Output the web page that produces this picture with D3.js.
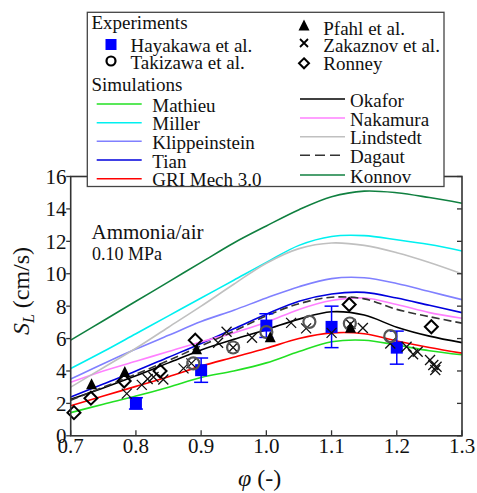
<!DOCTYPE html>
<html><head><meta charset="utf-8">
<script src="https://cdn.jsdelivr.net/npm/d3@7/dist/d3.min.js"></script>
<style>body{margin:0;background:#fff}svg{display:block}</style>
</head><body>
<svg id="c" width="477" height="493" font-family="'Liberation Serif', 'Times New Roman', Times, serif"></svg>
<script>
// ---- data ----
const phiGrid = [0.7,0.75,0.8,0.85,0.9,0.95,1.0,1.05,1.1,1.15,1.2,1.25,1.3];
const mathieu  = [1.43,1.95,2.45,3.0,3.6,4.0,4.5,5.2,5.8,5.9,5.6,5.25,5.0];
const miller   = [4.15,5.2,6.3,7.4,8.5,9.6,10.7,11.75,12.3,12.35,12.1,11.8,11.4];
const klipp    = [3.5,4.45,5.35,6.2,7.05,7.75,8.5,9.2,9.7,9.75,9.4,8.9,8.4];
const tian     = [2.4,3.2,4.0,4.85,5.7,6.6,7.5,8.3,8.75,8.85,8.5,8.05,7.6];
const gri      = [1.85,2.45,3.05,3.65,4.3,4.85,5.4,6.0,6.35,6.3,5.85,5.45,5.1];
const okafor   = [2.25,2.95,3.7,4.5,5.3,5.95,6.55,7.2,7.65,7.45,6.7,6.15,5.75];
const nakamura = [3.3,4.0,4.6,5.2,5.8,6.35,7.0,7.8,8.35,8.5,8.1,7.6,7.25];
const lindstedt= [3.0,4.2,5.4,6.7,8.0,9.35,10.65,11.55,11.9,11.75,11.3,10.7,10.0];
const dagaut   = [2.2,3.0,3.8,4.65,5.55,6.45,7.4,8.15,8.55,8.45,7.8,7.35,6.95];
const konnov   = [5.9,7.1,8.3,9.5,10.7,11.9,12.95,13.95,14.75,15.1,15.0,14.7,14.35];

const hayakawaPhi = [0.8,0.9,1.0,1.1,1.2];
const hayakawaSL  = [2.0,4.05,6.8,6.72,5.44];
const hayakawaErr = [0.35,0.75,0.73,1.28,1.02];
const takizawaPhi = [0.888,0.949,1.0,1.066,1.128,1.19];
const takizawaSL  = [4.47,5.45,6.4,7.03,6.93,6.15];
const pfahlPhi = [0.732,0.783,0.893,1.006,1.129];
const pfahlSL  = [3.14,3.9,5.3,6.05,6.63];
const zakaznovPhi = [0.786,0.809,0.818,0.827,0.842,0.873,0.885,0.926,0.939,0.949,0.978,1.038,1.061,1.1,1.129,1.148,1.19,1.215,1.225,1.232,1.251,1.256,1.259,1.261];
const zakaznovSL  = [2.6,3.14,3.5,3.63,3.47,4.16,4.47,5.74,6.42,5.45,6.05,6.97,6.63,6.35,6.9,6.65,5.7,5.5,5.03,5.19,4.68,4.37,4.06,4.26];
const ronneyPhi = [0.705,0.731,0.782,0.837,0.891,1.127,1.253];
const ronneySL  = [1.43,2.32,3.38,4.0,5.9,8.1,6.73];

const xTicks = [0.7,0.8,0.9,1.0,1.1,1.2,1.3];
const yTicks = [0,2,4,6,8,10,12,14,16];

const simNames = ["Mathieu","Miller","Klippeinstein","Tian","GRI Mech 3.0","Okafor","Nakamura","Lindstedt","Dagaut","Konnov"];
const simData = [mathieu,miller,klipp,tian,gri,okafor,nakamura,lindstedt,dagaut,konnov];
const simColors = ["#22e022","#00f0f0","#8080ff","#0000dd","#ff0000","#000000","#ff80ff","#c0c0c0","#333333","#108040"];
const simDash = [null,null,null,null,null,null,null,null,"8,4",null];

// ---- layout ----
const svg = d3.select("#c");
const x = d3.scaleLinear().domain([0.7,1.3]).range([70.7,462]);
const y = d3.scaleLinear().domain([0,16]).range([435.8,176.5]);
const axisColor = "#333";
const txtColor = "#111";

svg.append("clipPath").attr("id","clip").append("rect")
  .attr("x",x(0.7)).attr("y",y(16)).attr("width",x(1.3)-x(0.7)).attr("height",y(0)-y(16));

const line = d3.line().x((d,i)=>x(phiGrid[i])).y(d=>y(d)).curve(d3.curveCatmullRom.alpha(0.5));
const gLines = svg.append("g").attr("clip-path","url(#clip)");
simData.forEach((s,k)=>{
  gLines.append("path").attr("d",line(s)).attr("fill","none")
    .attr("stroke",simColors[k]).attr("stroke-width",1.6)
    .attr("stroke-dasharray",simDash[k]);
});

const gM = svg.append("g");
hayakawaPhi.forEach((p,i)=>{
  const cx=x(p), y1=y(hayakawaSL[i]+hayakawaErr[i]), y2=y(hayakawaSL[i]-hayakawaErr[i]);
  gM.append("line").attr("x1",cx).attr("x2",cx).attr("y1",y1).attr("y2",y2).attr("stroke","#0000ff").attr("stroke-width",1.5);
  [y1,y2].forEach(yy=>gM.append("line").attr("x1",cx-7).attr("x2",cx+7).attr("y1",yy).attr("y2",yy).attr("stroke","#0000ff").attr("stroke-width",1.5));
  gM.append("rect").attr("x",cx-6).attr("y",y(hayakawaSL[i])-6).attr("width",12).attr("height",12).attr("fill","#0000ff");
});
zakaznovPhi.forEach((p,i)=>{
  const cx=x(p), cy=y(zakaznovSL[i]), r=5;
  gM.append("path").attr("d",`M${cx-r},${cy-r}L${cx+r},${cy+r}M${cx-r},${cy+r}L${cx+r},${cy-r}`)
    .attr("stroke","#111").attr("stroke-width",1.3).attr("fill","none");
});
takizawaPhi.forEach((p,i)=>{
  gM.append("circle").attr("cx",x(p)).attr("cy",y(takizawaSL[i])).attr("r",6)
    .attr("fill","none").attr("stroke","#555").attr("stroke-width",2.2);
});
const tri = (cx,cy,s)=>`M${cx},${cy-s*0.6}L${cx+s/2},${cy+s*0.4}L${cx-s/2},${cy+s*0.4}Z`;
pfahlPhi.forEach((p,i)=>{
  gM.append("path").attr("d",tri(x(p),y(pfahlSL[i]),11)).attr("fill","#000");
});
const dia = (cx,cy,r)=>`M${cx},${cy-r}L${cx+r},${cy}L${cx},${cy+r}L${cx-r},${cy}Z`;
ronneyPhi.forEach((p,i)=>{
  gM.append("path").attr("d",dia(x(p),y(ronneySL[i]),6.5)).attr("fill","none").attr("stroke","#000").attr("stroke-width",2);
});

// ---- axes ----
const gA = svg.append("g");
gA.append("rect").attr("x",x(0.7)).attr("y",y(16)).attr("width",x(1.3)-x(0.7)).attr("height",y(0)-y(16))
  .attr("fill","none").attr("stroke",axisColor).attr("stroke-width",1.6);
xTicks.forEach(t=>{
  gA.append("line").attr("x1",x(t)).attr("x2",x(t)).attr("y1",y(0)).attr("y2",y(0)-5.5).attr("stroke",axisColor).attr("stroke-width",1.3);
  gA.append("text").attr("x",x(t)).attr("y",453).attr("text-anchor","middle").attr("font-size",21).attr("fill",txtColor).text(d3.format(".1f")(t));
});
yTicks.forEach(t=>{
  gA.append("line").attr("x1",x(0.7)-4.5).attr("x2",x(0.7)).attr("y1",y(t)).attr("y2",y(t)).attr("stroke",axisColor).attr("stroke-width",1.3);
  gA.append("line").attr("x1",x(1.3)-5).attr("x2",x(1.3)).attr("y1",y(t)).attr("y2",y(t)).attr("stroke",axisColor).attr("stroke-width",1.3);
  gA.append("text").attr("x",66.5).attr("y",y(t)).attr("dy","0.35em").attr("text-anchor","end").attr("font-size",21).attr("fill",txtColor).text(t);
});
const yl = gA.append("text").attr("transform","translate(29,291) rotate(-90)").attr("text-anchor","middle").attr("font-size",24).attr("fill",txtColor);
yl.append("tspan").attr("font-style","italic").text("S");
yl.append("tspan").attr("font-style","italic").attr("font-size",16).attr("dy",5).text("L");
yl.append("tspan").attr("dy",-5).text(" (cm/s)");
const xl = gA.append("text").attr("x",238).attr("y",486).attr("font-size",24).attr("fill",txtColor);
xl.append("tspan").attr("font-style","italic").text("φ");
xl.append("tspan").text(" (-)");

svg.append("text").attr("x",91.5).attr("y",239).attr("font-size",21).attr("fill",txtColor).text("Ammonia/air");
svg.append("text").attr("x",92).attr("y",260).attr("font-size",18).attr("fill",txtColor).text("0.10 MPa");

// ---- legend ----
const gL = svg.append("g");
gL.append("rect").attr("x",87.3).attr("y",12.3).attr("width",444-87.3).attr("height",186.5-12.3)
  .attr("fill","#fff").attr("stroke","#444").attr("stroke-width",1.3);
const fs = 19;
const lt = (tx,ty,s)=>gL.append("text").attr("x",tx).attr("y",ty).attr("font-size",fs).attr("fill",txtColor).text(s);
lt(91.5,28.5,"Experiments");
gL.append("rect").attr("x",105.5).attr("y",39).attr("width",11).attr("height",11).attr("fill","#0000ff");
lt(130.5,52,"Hayakawa et al.");
gL.append("circle").attr("cx",111).attr("cy",61).attr("r",4.5).attr("fill","none").attr("stroke","#000").attr("stroke-width",2.2);
lt(130.5,68.5,"Takizawa et al.");
lt(91.5,91,"Simulations");
gL.append("path").attr("d",tri(304,26,11)).attr("fill","#000");
lt(323.3,35,"Pfahl et al.");
gL.append("path").attr("d","M300,39L308,47M300,47L308,39").attr("stroke","#000").attr("stroke-width",1.8);
lt(323.3,52.3,"Zakaznov et al.");
gL.append("path").attr("d",dia(304,63.3,5)).attr("fill","none").attr("stroke","#000").attr("stroke-width",2);
lt(323.3,69.5,"Ronney");
const leftRowY = [104,122.7,141.3,160,178.7];
const rightRowY = [99,118,136.7,155.3,175];
simNames.forEach((n,k)=>{
  const left = k<5, ly = left ? leftRowY[k] : rightRowY[k-5];
  const x1 = left?96.7:300, x2 = left?141.7:345, tx = left?152.3:350;
  gL.append("line").attr("x1",x1).attr("x2",x2).attr("y1",ly).attr("y2",ly)
    .attr("stroke",simColors[k]).attr("stroke-width",1.6).attr("stroke-dasharray",simDash[k]?"10,5":null);
  lt(tx,ly+7.5,n);
});
</script>
</body></html>
